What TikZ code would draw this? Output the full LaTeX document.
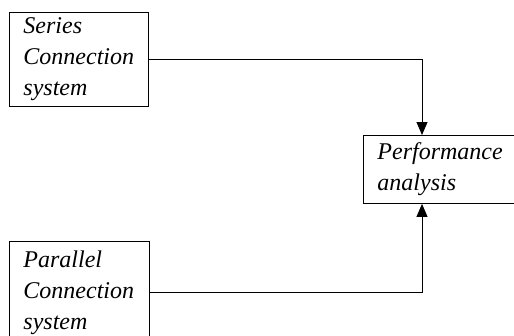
\documentclass[tikz,border=0pt]{standalone}
\usepackage{fontspec}
\setmainfont{Liberation Serif}
\usetikzlibrary{arrows.meta,calc}
\begin{document}
\begin{tikzpicture}[x=1bp,y=-1bp,
  box/.style={draw,line width=0.9bp,anchor=north west,inner xsep=14bp,inner ysep=0bp,
    align=left,font=\fontsize{24bp}{31bp}\selectfont\itshape},
  conn/.style={line width=0.9bp,-{Triangle[length=13bp,width=11bp]}}]
\useasboundingbox (0,0) rectangle (514,335);
\node[box,minimum width=139bp,minimum height=94bp,text width=111bp] (series) at (9,12) {Series\\Connection\\system};
\node[box,minimum width=140bp,minimum height=102bp,text width=112bp] (parallel) at (9,241) {Parallel\\Connection\\system};
\node[box,minimum width=152bp,minimum height=68bp,text width=124bp] (perf) at (363,135) {Performance\\analysis};
\coordinate (ptop) at ($(perf.north west)+(59,0)$);
\coordinate (pbot) at ($(perf.south west)+(59,0)$);
\draw[conn] (series.east) -| (ptop);
\draw[conn] (parallel.east) -| (pbot);
\end{tikzpicture}
\end{document}
